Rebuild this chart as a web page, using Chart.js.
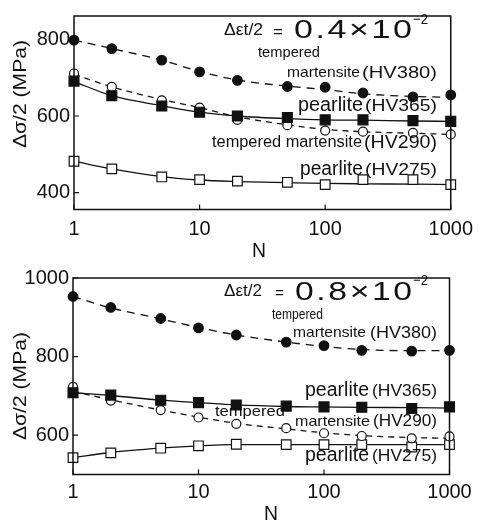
<!DOCTYPE html>
<html>
<head>
<meta charset="UTF-8" />
<title>Stress amplitude vs N</title>
<script src="https://cdn.jsdelivr.net/npm/chart.js"></script>
<style>
  html, body { margin: 0; padding: 0; background: #fff; }
  .box { position: absolute; left: 0; width: 481px; }
</style>
</head>
<body>
<div class="box" style="top:0;height:262px"><canvas id="topChart" width="481" height="262"></canvas></div>
<div class="box" style="top:262px;height:265px"><canvas id="botChart" width="481" height="265"></canvas></div>

<script>
// cycles
const N = [1, 2, 5, 10, 20, 50, 100, 200, 500, 1000];
const xTicks = [1, 10, 100, 1000];

// strain amplitude 0.4x10^-2
const topYTicks = [400, 600, 800];
const topTM380 = [798, 776, 746, 715, 693, 677, 675, 660, 650, 655];
const topTM380Fit = [798, 776, 746, 716, 694, 678, 669, 658, 651, 649];
const topP365 = [691, 653, 626, 610, 600, 596, 590, 590, 588, 586];
const topP365Fit = [690, 653, 627, 610, 600, 593, 590, 589, 587, 586];
const topTM290 = [711, 676, 641, 622, 590, 576, 562, 559, 556, 552];
const topTM290Fit = [709, 676, 643, 622, 598, 577, 565, 559, 555, 552];
const topP275 = [482, 462, 441, 434, 430, 427, 421, 434, 434, 421];
const topP275Fit = [482, 462, 442, 433, 429, 426, 424, 423, 422, 421];

// strain amplitude 0.8x10^-2
const botYTicks = [600, 800, 1000];
const botTM380 = [953, 925, 897, 873, 855, 837, 828, 816, 814, 816];
const botTM380Fit = [953, 924, 896, 874, 855, 837, 826, 818, 815, 815];
const botP365 = [708, 702, 689, 683, 677, 674, 672, 671, 668, 672];
const botP365Fit = [708, 701, 689, 683, 677, 673, 672, 671, 670, 669];
const botTM290 = [723, 688, 664, 645, 629, 618, 605, 598, 592, 597];
const botTM290Fit = [712, 690, 664, 646, 630, 616, 606, 599, 594, 592];
const botP275 = [543, 555, 567, 573, 577, 576, 576, 576, 570, 576];
const botP275Fit = [543, 556, 567, 573, 576, 576, 576, 576, 576, 576];

const FONT = '"Liberation Sans", Arial, sans-serif';
const INK = '#111';

function pts(vals) { return N.map((n, i) => ({ x: n, y: vals[i] })); }

// marker / line style per material
const styles = {
  tm380: { shape: 'circle', fill: INK, r: 4.8, dash: [8, 6] },
  p365:  { shape: 'rect', fill: INK, r: 7, dash: [] },
  tm290: { shape: 'circle', fill: '#fff', r: 4.5, dash: [6, 5] },
  p275:  { shape: 'rect', fill: '#fff', r: 6.8, dash: [] }
};

function series(marks, fit, kind) {
  const s = styles[kind];
  return [
    { data: pts(marks), showLine: false, pointStyle: s.shape, pointRadius: s.r,
      pointBackgroundColor: s.fill, pointBorderColor: INK, pointBorderWidth: 1.2,
      order: 0, clip: false },
    { data: pts(fit), pointRadius: 0, borderColor: INK, borderWidth: 1.3,
      borderDash: s.dash, cubicInterpolationMode: 'monotone', fill: false,
      order: 1, clip: false }
  ];
}

// text stretched to span x1..x2 at the given baseline
function put(ctx, s, x1, x2, base, size, ls) {
  ctx.save();
  ctx.font = size + 'px ' + FONT;
  ctx.letterSpacing = (ls || 0) + 'px';
  const w = ctx.measureText(s).width - (ls || 0);
  ctx.translate(x1, base);
  ctx.scale((x2 - x1) / w, 1);
  ctx.textAlign = 'left';
  ctx.textBaseline = 'alphabetic';
  ctx.fillText(s, 0, 0);
  ctx.restore();
}

function decor(notes, yTitle, nPos) {
  return {
    id: 'decor',
    afterDraw(chart) {
      const ctx = chart.ctx, a = chart.chartArea;
      const xs = chart.scales.x, ys = chart.scales.y;
      ctx.save();
      ctx.strokeStyle = INK;
      ctx.fillStyle = INK;
      ctx.lineWidth = 1.5;
      ctx.strokeRect(a.left, a.top, a.right - a.left, a.bottom - a.top);
      ctx.lineWidth = 1.2;
      ctx.beginPath();
      ys.ticks.forEach(t => {
        const y = ys.getPixelForValue(t.value);
        ctx.moveTo(a.left, y); ctx.lineTo(a.left + 5, y);
      });
      xs.ticks.forEach(t => {
        const x = xs.getPixelForValue(t.value);
        ctx.moveTo(x, a.bottom); ctx.lineTo(x, a.bottom - 5);
      });
      ctx.stroke();
      notes.forEach(n => put(ctx, n[0], n[1], n[2], n[3], n[4], n[5]));
      // x title
      put(ctx, 'N', nPos[0] - 7, nPos[0] + 7, nPos[1], 21);
      // y title, rotated
      ctx.save();
      ctx.translate(yTitle[0], yTitle[2]);
      ctx.rotate(-Math.PI / 2);
      put(ctx, 'Δσ/2 (MPa)', 0, yTitle[2] - yTitle[1], 0, 18);
      ctx.restore();
      ctx.restore();
    }
  };
}

function makeChart(id, cfg) {
  return new Chart(document.getElementById(id), {
    type: 'line',
    data: { datasets: cfg.datasets },
    options: {
      responsive: false,
      animation: false,
      layout: { padding: cfg.pad },
      plugins: { legend: { display: false }, tooltip: { enabled: false } },
      scales: {
        x: {
          type: 'logarithmic', min: 1, max: 1000,
          afterBuildTicks: s => { s.ticks = xTicks.map(v => ({ value: v })); },
          afterFit: s => { s.height = cfg.xh; },
          grid: { display: false, drawTicks: false },
          border: { display: false },
          ticks: { color: INK, font: { family: FONT, size: 20 }, padding: cfg.xpad,
                   maxRotation: 0, autoSkip: false, callback: v => String(v) }
        },
        y: {
          min: cfg.ymin, max: cfg.ymax,
          afterBuildTicks: s => { s.ticks = cfg.yticks.map(v => ({ value: v })); },
          afterFit: s => { s.width = cfg.yw; },
          grid: { display: false, drawTicks: false },
          border: { display: false },
          ticks: { color: INK, font: { family: FONT, size: 20 }, padding: 4,
                   callback: v => String(v) }
        }
      }
    },
    plugins: [decor(cfg.notes, cfg.yTitle, cfg.nPos)]
  });
}

makeChart('topChart', {
  ymin: 356, ymax: 861, yticks: topYTicks,
  pad: { top: 10, right: 29, left: 0, bottom: 0 }, yw: 74, xh: 52.5, xpad: 8,
  datasets: [
    ...series(topTM380, topTM380Fit, 'tm380'),
    ...series(topP365, topP365Fit, 'p365'),
    ...series(topTM290, topTM290Fit, 'tm290'),
    ...series(topP275, topP275Fit, 'p275')
  ],
  notes: [
    ['Δεt/2', 224, 263, 35, 16],
    ['=', 273, 283, 37, 17],
    ['0.4×10', 294, 412, 38, 26, 2],
    ['−2', 413, 428, 24, 15],
    ['tempered', 258, 320, 57, 15],
    ['martensite', 287, 360, 77, 15],
    ['(HV380)', 362, 437, 78, 17],
    ['pearlite', 298, 363, 111, 20],
    ['(HV365)', 365, 437, 111, 17],
    ['tempered martensite', 212, 362, 147, 16],
    ['(HV290)', 364, 437, 148, 18],
    ['pearlite', 300, 363, 175, 20],
    ['(HV275)', 365, 437, 175, 17]
  ],
  yTitle: [26, 40, 148],
  nPos: [259, 257]
});

makeChart('botChart', {
  ymin: 500, ymax: 1000, yticks: botYTicks,
  pad: { top: 14, right: 31.5, left: 0, bottom: 0 }, yw: 73, xh: 52.5, xpad: 6,
  datasets: [
    ...series(botTM380, botTM380Fit, 'tm380'),
    ...series(botP365, botP365Fit, 'p365'),
    ...series(botTM290, botTM290Fit, 'tm290'),
    ...series(botP275, botP275Fit, 'p275')
  ],
  notes: [
    ['Δεt/2', 224, 262, 34, 16],
    ['=', 275, 284, 36, 17],
    ['0.8×10', 295, 412, 38, 26, 2],
    ['−2', 413, 428, 23, 15],
    ['tempered', 272, 323, 57, 15],
    ['martensite', 293, 366, 75, 15],
    ['(HV380)', 370, 437, 76, 17],
    ['pearlite', 305, 369, 134, 20],
    ['(HV365)', 372, 437, 134, 17],
    ['tempered', 215, 285, 154, 15],
    ['martensite', 295, 370, 164, 15],
    ['(HV290)', 373, 437, 164, 17],
    ['pearlite', 305, 369, 199, 20],
    ['(HV275)', 372, 437, 199, 17]
  ],
  yTitle: [26, 70, 178],
  nPos: [271, 258]
});
</script>
</body>
</html>
